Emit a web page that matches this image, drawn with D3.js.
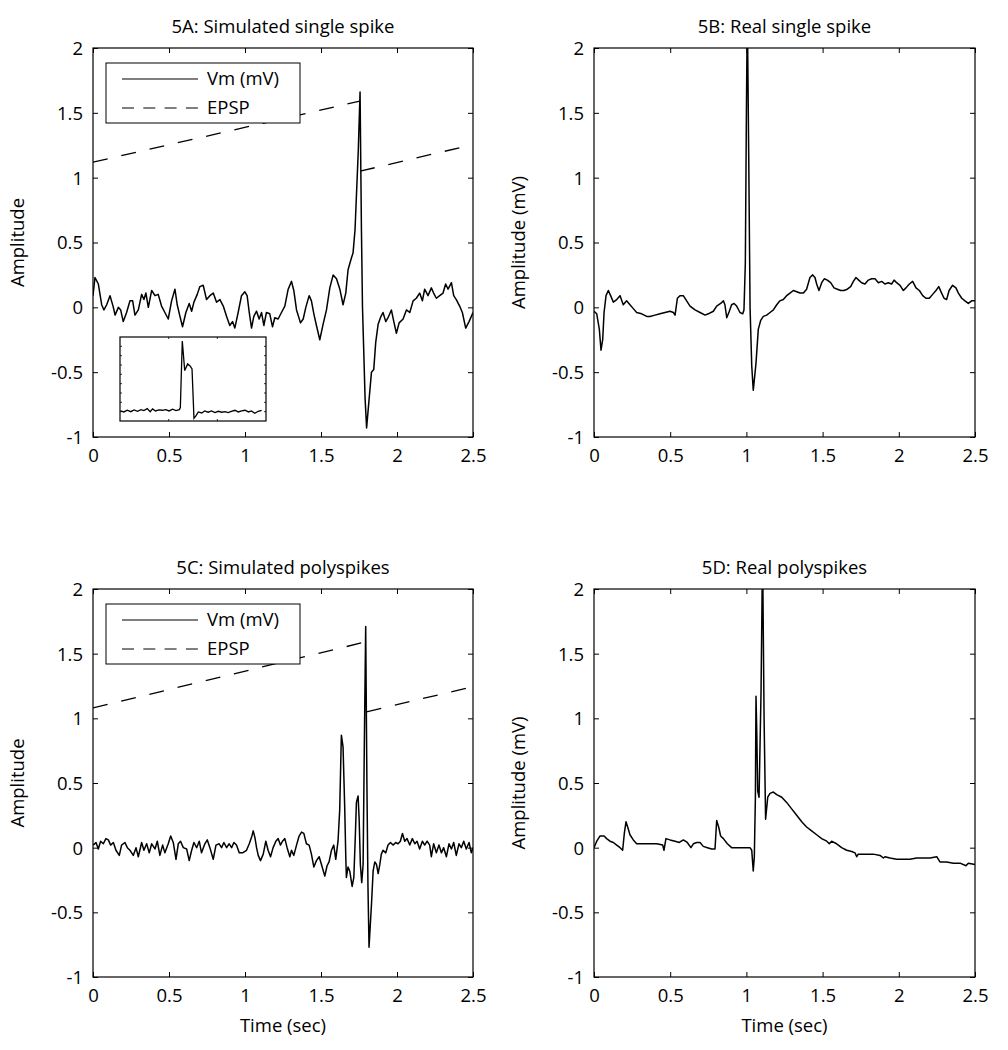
<!DOCTYPE html>
<html><head><meta charset="utf-8">
<script src="https://cdn.jsdelivr.net/npm/d3@7"></script>
<style>
html,body{margin:0;padding:0;background:#fff;}
text{font-family:"Open Sans",sans-serif;fill:#000;}
</style></head>
<body><svg id="c" width="1008" height="1050"></svg>
<script>
// ---------- data ----------
const xTicks = [0, 0.5, 1, 1.5, 2, 2.5];
const yTicks = [-1, -0.5, 0, 0.5, 1, 1.5, 2];
const titles = ["5A: Simulated single spike", "5B: Real single spike", "5C: Simulated polyspikes", "5D: Real polyspikes"];
const yLabels = ["Amplitude", "Amplitude (mV)", "Amplitude", "Amplitude (mV)"];
const xLabel = "Time (sec)";
const legendLabels = ["Vm (mV)", "EPSP"];

// 5A simulated single spike (time, Vm)
const vmA = [[0,0.09],[0.013,0.23],[0.035,0.18],[0.057,0.02],[0.072,-0.02],[0.09,0.02],[0.112,0.09],[0.134,0.0],[0.145,-0.06],[0.167,0.0],[0.182,-0.02],[0.199,-0.11],[0.221,-0.04],[0.243,0.05],[0.261,0.05],[0.276,-0.06],[0.298,-0.02],[0.32,0.1],[0.335,0.06],[0.348,0.11],[0.364,0.0],[0.386,0.13],[0.408,0.09],[0.429,0.1],[0.451,0.01],[0.473,-0.04],[0.495,-0.09],[0.517,0.05],[0.539,0.14],[0.554,0.02],[0.572,-0.07],[0.589,-0.15],[0.611,-0.04],[0.633,0.03],[0.649,-0.03],[0.664,0.04],[0.686,0.1],[0.703,0.16],[0.725,0.17],[0.747,0.06],[0.769,0.09],[0.791,0.11],[0.813,0.04],[0.835,0.06],[0.857,0.01],[0.879,-0.07],[0.9,-0.14],[0.918,-0.11],[0.933,-0.16],[0.955,-0.04],[0.977,0.09],[0.999,0.12],[1.014,0.09],[1.028,-0.04],[1.043,-0.16],[1.058,-0.07],[1.076,-0.03],[1.093,-0.09],[1.109,-0.04],[1.124,-0.14],[1.141,-0.04],[1.163,-0.05],[1.181,-0.15],[1.196,-0.08],[1.218,-0.09],[1.24,-0.04],[1.262,0.01],[1.284,0.14],[1.306,0.2],[1.321,0.13],[1.339,-0.02],[1.365,-0.12],[1.383,-0.09],[1.4,0.0],[1.422,0.09],[1.437,0.05],[1.453,-0.05],[1.47,-0.14],[1.492,-0.25],[1.514,-0.13],[1.536,-0.02],[1.558,0.15],[1.58,0.25],[1.602,0.22],[1.624,0.14],[1.645,0.02],[1.663,0.11],[1.678,0.29],[1.7,0.38],[1.711,0.42],[1.724,0.6],[1.745,1.2],[1.757,1.66],[1.766,0.6],[1.773,0.0],[1.79,-0.7],[1.8,-0.93],[1.832,-0.5],[1.847,-0.48],[1.86,-0.27],[1.876,-0.13],[1.891,-0.08],[1.908,-0.04],[1.926,-0.11],[1.941,-0.08],[1.963,-0.02],[1.979,-0.11],[1.996,-0.2],[2.014,-0.12],[2.04,-0.09],[2.062,-0.02],[2.084,-0.04],[2.106,0.05],[2.127,0.07],[2.149,0.11],[2.167,0.05],[2.182,0.14],[2.204,0.09],[2.226,0.15],[2.241,0.11],[2.259,0.07],[2.281,0.09],[2.303,0.11],[2.32,0.18],[2.336,0.14],[2.358,0.19],[2.373,0.09],[2.39,0.06],[2.412,0.01],[2.43,-0.04],[2.452,-0.16],[2.474,-0.11],[2.5,-0.04]];
const epspA1 = [[0,1.12],[1.755,1.59]];
const epspA2 = [[1.757,1.05],[2.5,1.255]];

// 5A inset trace (arbitrary inset units)
const insetTrace = [[0.01,1.08],[0.08,0.97],[0.15,1.15],[0.22,1.0],[0.29,1.19],[0.36,1.04],[0.43,1.22],[0.49,1.12],[0.56,1.33],[0.62,1.0],[0.67,1.3],[0.73,1.08],[0.8,1.19],[0.87,1.15],[0.94,1.22],[1.01,1.08],[1.08,1.26],[1.15,1.12],[1.22,1.22],[1.24,1.44],[1.28,8.57],[1.33,5.4],[1.39,6.12],[1.44,5.9],[1.48,5.58],[1.52,0.29],[1.56,0.54],[1.61,0.97],[1.68,0.86],[1.74,1.08],[1.81,0.94],[1.88,1.08],[1.95,0.9],[2.02,1.04],[2.09,0.94],[2.16,1.0],[2.22,0.9],[2.29,1.04],[2.36,1.15],[2.43,0.97],[2.5,1.08],[2.57,1.15],[2.64,0.97],[2.7,1.08],[2.77,0.83],[2.84,1.04],[2.91,1.15]];

// 5B real single spike
const vmB = [[0,-0.03],[0.018,-0.05],[0.035,-0.17],[0.046,-0.33],[0.057,-0.25],[0.066,-0.04],[0.079,0.09],[0.094,0.13],[0.109,0.09],[0.127,0.04],[0.149,0.06],[0.171,0.09],[0.192,0.02],[0.214,0.05],[0.236,0.02],[0.258,-0.01],[0.28,-0.04],[0.313,-0.05],[0.346,-0.07],[0.367,-0.07],[0.4,-0.06],[0.433,-0.05],[0.466,-0.04],[0.499,-0.03],[0.521,-0.04],[0.532,-0.06],[0.547,0.07],[0.564,0.09],[0.586,0.09],[0.608,0.05],[0.63,0.01],[0.663,-0.02],[0.696,-0.04],[0.729,-0.06],[0.75,-0.05],[0.783,-0.03],[0.805,0.01],[0.831,0.03],[0.849,0.05],[0.859,0.02],[0.871,-0.08],[0.888,-0.03],[0.903,0.02],[0.919,0.03],[0.936,0.01],[0.958,-0.04],[0.976,-0.05],[0.984,-0.02],[0.993,0.34],[1.0,1.5],[1.006,2.3],[1.015,1.2],[1.024,0.0],[1.035,-0.45],[1.045,-0.64],[1.063,-0.43],[1.078,-0.17],[1.094,-0.1],[1.111,-0.07],[1.133,-0.06],[1.155,-0.04],[1.177,-0.02],[1.199,0.02],[1.22,0.05],[1.242,0.06],[1.264,0.09],[1.286,0.11],[1.308,0.13],[1.33,0.12],[1.352,0.11],[1.374,0.11],[1.395,0.14],[1.417,0.23],[1.435,0.25],[1.45,0.23],[1.461,0.18],[1.476,0.13],[1.494,0.19],[1.511,0.22],[1.531,0.21],[1.553,0.19],[1.575,0.15],[1.597,0.14],[1.619,0.13],[1.64,0.13],[1.662,0.14],[1.684,0.16],[1.702,0.2],[1.719,0.23],[1.737,0.21],[1.756,0.19],[1.778,0.18],[1.8,0.21],[1.822,0.22],[1.844,0.22],[1.866,0.19],[1.888,0.2],[1.909,0.18],[1.931,0.19],[1.953,0.18],[1.969,0.21],[1.986,0.19],[2.008,0.17],[2.03,0.13],[2.047,0.15],[2.069,0.18],[2.091,0.2],[2.113,0.15],[2.135,0.13],[2.157,0.09],[2.178,0.07],[2.2,0.07],[2.222,0.1],[2.244,0.13],[2.262,0.16],[2.281,0.11],[2.297,0.07],[2.314,0.06],[2.33,0.13],[2.353,0.17],[2.375,0.15],[2.391,0.11],[2.413,0.07],[2.434,0.05],[2.456,0.03],[2.478,0.05],[2.5,0.05]];

// 5C simulated polyspikes
const vmC = [[0.002,0.02],[0.02,0.04],[0.035,-0.01],[0.05,0.05],[0.068,0.03],[0.085,0.07],[0.101,0.06],[0.116,0.02],[0.134,0.04],[0.151,-0.02],[0.173,-0.06],[0.188,0.02],[0.21,0.04],[0.226,0.0],[0.243,-0.02],[0.265,-0.06],[0.283,0.0],[0.298,-0.07],[0.32,0.04],[0.335,-0.02],[0.353,0.03],[0.37,-0.04],[0.386,0.03],[0.408,-0.01],[0.423,0.05],[0.44,-0.06],[0.458,0.02],[0.473,-0.04],[0.495,0.03],[0.511,0.09],[0.528,0.04],[0.546,-0.09],[0.561,0.03],[0.576,0.05],[0.594,0.0],[0.616,-0.01],[0.633,-0.1],[0.649,-0.02],[0.664,0.04],[0.682,0.0],[0.699,0.05],[0.714,-0.04],[0.736,0.03],[0.752,0.06],[0.769,0.0],[0.791,-0.09],[0.809,0.02],[0.83,0.03],[0.846,0.0],[0.861,0.04],[0.879,0.0],[0.896,0.03],[0.912,0.0],[0.927,0.04],[0.944,0.02],[0.962,-0.04],[0.984,-0.04],[1.01,-0.02],[1.028,0.03],[1.043,0.08],[1.054,0.13],[1.065,0.08],[1.076,0.0],[1.087,-0.06],[1.102,-0.1],[1.12,-0.05],[1.137,0.05],[1.152,-0.02],[1.168,-0.07],[1.185,0.0],[1.203,0.05],[1.218,0.07],[1.233,0.02],[1.247,0.05],[1.262,0.07],[1.277,0.0],[1.295,-0.07],[1.306,-0.02],[1.321,-0.06],[1.339,0.02],[1.356,0.09],[1.372,0.12],[1.387,0.11],[1.404,0.03],[1.422,0.02],[1.437,-0.05],[1.453,-0.15],[1.47,-0.1],[1.488,-0.07],[1.503,-0.13],[1.525,-0.22],[1.54,-0.14],[1.553,-0.11],[1.569,-0.02],[1.584,0.02],[1.597,-0.09],[1.612,0.05],[1.623,0.29],[1.634,0.87],[1.645,0.78],[1.656,0.31],[1.663,-0.07],[1.667,-0.23],[1.678,-0.15],[1.689,-0.18],[1.705,-0.3],[1.716,-0.23],[1.727,0.13],[1.733,0.35],[1.744,0.4],[1.751,0.22],[1.759,-0.13],[1.768,-0.27],[1.777,-0.13],[1.786,0.9],[1.794,1.71],[1.802,0.5],[1.809,-0.3],[1.816,-0.77],[1.832,-0.44],[1.843,-0.18],[1.854,-0.11],[1.865,-0.13],[1.876,-0.2],[1.887,-0.13],[1.897,-0.05],[1.908,-0.02],[1.926,-0.04],[1.941,0.02],[1.957,0.04],[1.974,0.02],[1.992,0.04],[2.007,0.03],[2.022,0.05],[2.036,0.11],[2.051,0.05],[2.066,0.07],[2.084,0.02],[2.101,0.07],[2.117,0.03],[2.132,0.05],[2.149,-0.01],[2.167,0.05],[2.182,0.02],[2.198,0.05],[2.215,0.02],[2.226,-0.07],[2.241,0.03],[2.259,-0.04],[2.276,0.02],[2.292,-0.04],[2.307,0.0],[2.325,-0.07],[2.342,0.03],[2.358,-0.01],[2.373,0.04],[2.39,-0.06],[2.408,0.03],[2.423,0.0],[2.439,0.05],[2.456,-0.01],[2.474,0.04],[2.489,-0.04],[2.5,0.0]];
const epspC1 = [[0,1.08],[1.79,1.59]];
const epspC2 = [[1.80,1.05],[2.5,1.245]];

// 5D real polyspikes
const vmD = [[0,0.0],[0.018,0.05],[0.039,0.09],[0.066,0.09],[0.083,0.07],[0.105,0.05],[0.127,0.04],[0.149,0.02],[0.171,0.0],[0.188,-0.02],[0.199,0.11],[0.21,0.2],[0.221,0.16],[0.236,0.1],[0.258,0.06],[0.28,0.03],[0.313,0.03],[0.346,0.03],[0.378,0.03],[0.411,0.03],[0.451,0.02],[0.459,-0.02],[0.472,0.07],[0.499,0.06],[0.532,0.05],[0.56,0.04],[0.586,0.06],[0.612,0.04],[0.636,0.0],[0.652,0.03],[0.674,0.04],[0.696,0.04],[0.717,0.01],[0.744,0.0],[0.772,-0.01],[0.794,-0.01],[0.805,0.21],[0.818,0.16],[0.831,0.09],[0.849,0.07],[0.875,0.03],[0.903,0.0],[0.936,0.0],[0.969,0.0],[1.002,0.0],[1.024,0.0],[1.035,-0.02],[1.045,-0.18],[1.052,-0.07],[1.059,0.39],[1.063,1.17],[1.068,0.9],[1.074,0.44],[1.083,0.39],[1.096,1.2],[1.106,2.3],[1.116,1.0],[1.126,0.22],[1.14,0.39],[1.155,0.42],[1.177,0.43],[1.199,0.41],[1.232,0.39],[1.264,0.35],[1.297,0.3],[1.33,0.25],[1.363,0.2],[1.395,0.16],[1.428,0.13],[1.461,0.1],[1.494,0.07],[1.527,0.05],[1.544,0.03],[1.559,0.05],[1.592,0.03],[1.625,0.0],[1.658,-0.02],[1.691,-0.03],[1.713,-0.04],[1.724,-0.07],[1.734,-0.05],[1.767,-0.05],[1.8,-0.05],[1.833,-0.05],[1.877,-0.06],[1.899,-0.08],[1.909,-0.07],[1.942,-0.08],[1.986,-0.09],[2.03,-0.09],[2.073,-0.09],[2.117,-0.08],[2.161,-0.08],[2.205,-0.08],[2.249,-0.07],[2.27,-0.11],[2.314,-0.11],[2.358,-0.12],[2.402,-0.12],[2.441,-0.14],[2.456,-0.12],[2.5,-0.13]];

// ---------- drawing ----------
const svg = d3.select("#c");
const FS = 18.5;
const panels = [
  {L:93, R:473, T:48, B:437, vm:vmA, epsp:[epspA1, epspA2], legend:true, inset:true, xlab:false},
  {L:594, R:975, T:48, B:437, vm:vmB, epsp:null, legend:false, inset:false, xlab:false},
  {L:93, R:473, T:589, B:977, vm:vmC, epsp:[epspC1, epspC2], legend:true, inset:false, xlab:true},
  {L:594, R:975, T:589, B:977, vm:vmD, epsp:null, legend:false, inset:false, xlab:true}
];
const fmt = d => String(d);

panels.forEach((p, i) => {
  const x = d3.scaleLinear().domain([0, 2.5]).range([p.L, p.R]);
  const y = d3.scaleLinear().domain([-1, 2]).range([p.B, p.T]);
  const g = svg.append("g");
  const cid = "clip" + i;
  svg.append("defs").append("clipPath").attr("id", cid)
    .append("rect").attr("x", p.L).attr("y", p.T).attr("width", p.R - p.L).attr("height", p.B - p.T);

  const line = d3.line().x(d => x(d[0])).y(d => y(d[1]));
  const plot = g.append("g").attr("clip-path", `url(#${cid})`);
  if (p.epsp) {
    p.epsp.forEach(seg => plot.append("path").attr("d", line(seg))
      .attr("fill", "none").attr("stroke", "#000").attr("stroke-width", 1.3)
      .attr("stroke-dasharray", "15,14"));
  }
  plot.append("path").attr("d", line(p.vm)).attr("fill", "none")
    .attr("stroke", "#000").attr("stroke-width", 1.5).attr("stroke-linejoin", "round");

  // axes (box with inward ticks on all sides)
  const axB = d3.axisBottom(x).tickValues(xTicks).tickFormat(fmt).tickSizeInner(-5).tickSizeOuter(0).tickPadding(12);
  const axT = d3.axisTop(x).tickValues(xTicks).tickFormat("").tickSizeInner(-5).tickSizeOuter(0);
  const axL = d3.axisLeft(y).tickValues(yTicks).tickFormat(fmt).tickSizeInner(-5).tickSizeOuter(0).tickPadding(10);
  const axR = d3.axisRight(y).tickValues(yTicks).tickFormat("").tickSizeInner(-5).tickSizeOuter(0);
  const gb = g.append("g").attr("transform", `translate(0,${p.B})`).call(axB);
  const gt = g.append("g").attr("transform", `translate(0,${p.T})`).call(axT);
  const gl = g.append("g").attr("transform", `translate(${p.L},0)`).call(axL);
  const gr = g.append("g").attr("transform", `translate(${p.R},0)`).call(axR);
  [gb, gt, gl, gr].forEach(a => {
    a.selectAll(".domain").remove();
    a.selectAll("line").attr("stroke", "#000").attr("stroke-width", 1);
    a.selectAll("text").attr("font-family", '"Open Sans",sans-serif').attr("font-size", FS).attr("fill", "#000");
  });
  gl.selectAll("text").attr("dy", "0.35em");
  g.append("rect").attr("x", p.L).attr("y", p.T).attr("width", p.R - p.L).attr("height", p.B - p.T)
    .attr("fill", "none").attr("stroke", "#000").attr("stroke-width", 1.2);

  // title and labels
  g.append("text").attr("x", (p.L + p.R) / 2).attr("y", p.T - 15).attr("text-anchor", "middle")
    .attr("font-size", FS).text(titles[i]);
  g.append("text").attr("transform", `translate(${p.L - 69},${(p.T + p.B) / 2}) rotate(-90)`)
    .attr("text-anchor", "middle").attr("font-size", FS).text(yLabels[i]);
  if (p.xlab) {
    g.append("text").attr("x", (p.L + p.R) / 2).attr("y", p.B + 55).attr("text-anchor", "middle")
      .attr("font-size", FS).text(xLabel);
  }

  // legend
  if (p.legend) {
    const lg = g.append("g").attr("transform", `translate(${p.L + 13},${p.T + 15})`);
    lg.append("rect").attr("width", 194).attr("height", 60).attr("fill", "#fff").attr("stroke", "#000").attr("stroke-width", 1);
    lg.append("line").attr("x1", 16).attr("x2", 92).attr("y1", 16).attr("y2", 16).attr("stroke", "#000").attr("stroke-width", 1.2);
    lg.append("line").attr("x1", 16).attr("x2", 92).attr("y1", 45).attr("y2", 45).attr("stroke", "#000").attr("stroke-width", 1.2).attr("stroke-dasharray", "12,9.3");
    lg.append("text").attr("x", 101).attr("y", 16).attr("dy", "0.35em").attr("font-size", FS).text(legendLabels[0]);
    lg.append("text").attr("x", 101).attr("y", 45).attr("dy", "0.35em").attr("font-size", FS).text(legendLabels[1]);
  }

  // inset
  if (p.inset) {
    const iL = 120, iR = 266, iT = 337, iB = 421;
    const ix = d3.scaleLinear().domain([0, 3]).range([iL, iR]);
    const iy = d3.scaleLinear().domain([0, 9]).range([iB, iT]);
    const ig = g.append("g");
    ig.append("rect").attr("x", iL).attr("y", iT).attr("width", iR - iL).attr("height", iB - iT).attr("fill", "#fff");
    const iyt = [1,2,3,4,5,6,7,8], ixt = [1,2];
    ig.selectAll(".il").data(iyt).join("line").attr("x1", iL).attr("x2", iL + 2).attr("y1", d => iy(d)).attr("y2", d => iy(d)).attr("stroke", "#000").attr("stroke-width", 0.8);
    ig.selectAll(".ir").data(iyt).join("line").attr("x1", iR).attr("x2", iR - 2).attr("y1", d => iy(d)).attr("y2", d => iy(d)).attr("stroke", "#000").attr("stroke-width", 0.8);
    ig.selectAll(".ib").data(ixt).join("line").attr("x1", d => ix(d)).attr("x2", d => ix(d)).attr("y1", iB).attr("y2", iB - 2).attr("stroke", "#000").attr("stroke-width", 0.8);
    ig.selectAll(".it").data(ixt).join("line").attr("x1", d => ix(d)).attr("x2", d => ix(d)).attr("y1", iT).attr("y2", iT + 2).attr("stroke", "#000").attr("stroke-width", 0.8);
    const il = d3.line().x(d => ix(d[0])).y(d => iy(d[1]));
    ig.append("path").attr("d", il(insetTrace)).attr("fill", "none").attr("stroke", "#000").attr("stroke-width", 1.3);
    ig.append("rect").attr("x", iL).attr("y", iT).attr("width", iR - iL).attr("height", iB - iT).attr("fill", "none").attr("stroke", "#000").attr("stroke-width", 1.2);
  }
});
</script></body></html>
